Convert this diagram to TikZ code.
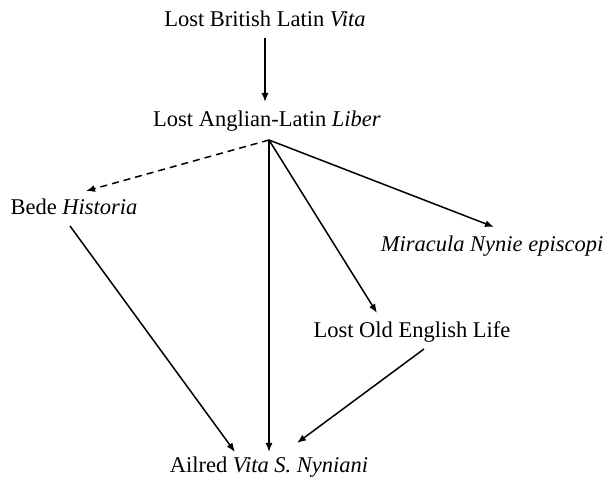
\documentclass[tikz,border=0pt]{standalone}
\usepackage{fontspec}
\setmainfont{Liberation Serif}
\usetikzlibrary{arrows.meta}
\begin{document}
\begin{tikzpicture}[x=1pt,y=-1pt,
  lbl/.style={anchor=base,inner sep=0pt,font=\fontsize{22.5}{26}\selectfont},
  arr/.style={line width=1.5pt,-{Latex[length=9pt,width=7pt]}},
  darr/.style={arr,dash pattern=on 7pt off 5pt}]
\useasboundingbox (0,0) rectangle (606,481);
% manuscript nodes
\node[lbl] (vita)   at (265,27)  {Lost British Latin \textit{Vita}};
\node[lbl] (liber)  at (267,127) {Lost Anglian-Latin \textit{Liber}};
\node[lbl] (bede)   at (74,215)  {Bede \textit{Historia}};
\node[lbl] (mir)    at (492,252) {\textit{Miracula Nynie episcopi}};
\node[lbl] (oe)     at (412,338) {Lost Old English Life};
\node[lbl] (ailred) at (269,472) {Ailred \textit{Vita S. Nyniani}};
% connector end points
\coordinate (vitaOut)  at (265,38);
\coordinate (liberIn)  at (265,102);
\coordinate (liberOut) at (269,140);
\coordinate (bedeIn)   at (86,191);
\coordinate (bedeOut)  at (70,226);
\coordinate (mirIn)    at (494,227);
\coordinate (oeIn)     at (377,313);
\coordinate (oeOut)    at (424,349);
\coordinate (ailL)     at (235,452);
\coordinate (ailM)     at (269,452);
\coordinate (ailR)     at (297,443);
% stemma connectors
\draw[arr]  (vitaOut)  -- (liberIn);
\draw[darr] (liberOut) -- (bedeIn);
\draw[arr]  (liberOut) -- (mirIn);
\draw[arr]  (liberOut) -- (oeIn);
\draw[arr]  (liberOut) -- (ailM);
\draw[arr]  (bedeOut)  -- (ailL);
\draw[arr]  (oeOut)    -- (ailR);
\end{tikzpicture}
\end{document}
